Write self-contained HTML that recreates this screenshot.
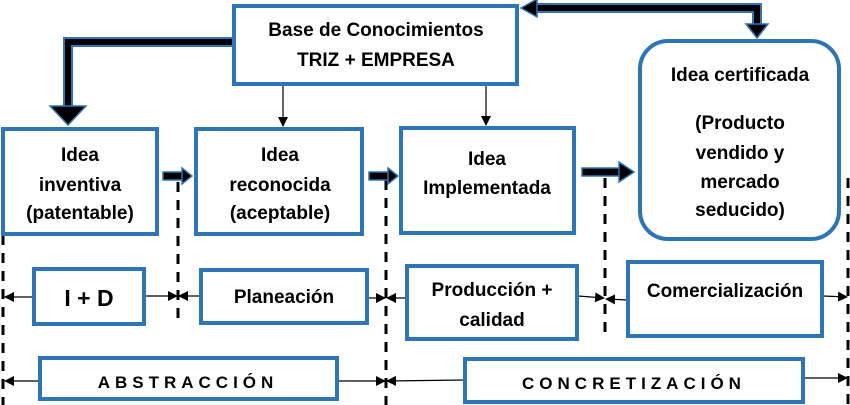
<!DOCTYPE html>
<html><head><meta charset="utf-8"><style>
html,body{margin:0;padding:0;background:#fff;}
svg{display:block;}
text{font-family:"Liberation Sans",sans-serif;font-weight:bold;fill:#000;}
</style></head><body>
<svg width="850" height="405" viewBox="0 0 850 405" xmlns="http://www.w3.org/2000/svg">
<defs>
<marker id="ah" markerWidth="10" markerHeight="10" refX="9" refY="5" orient="auto" markerUnits="userSpaceOnUse"><path d="M0,0 L10,5 L0,10 z" fill="#000"/></marker>
</defs>
<g fill="none" stroke="#000" stroke-width="3" stroke-dasharray="10,8">
<line x1="3" y1="235" x2="3" y2="405"/>
<line x1="178" y1="182" x2="178" y2="320"/>
<line x1="386" y1="180" x2="386" y2="405"/>
<line x1="605" y1="178" x2="605" y2="332"/>
<line x1="848" y1="178" x2="848" y2="405"/>
</g>
<path d="M233,42 L68,42 L68,108" fill="none" stroke="#2e75b6" stroke-width="10"/>
<path d="M233,42 L68,42 L68,108" fill="none" stroke="#000" stroke-width="6"/>
<path d="M50,106 L86,106 L68,125 z" fill="#000" stroke="#2e75b6" stroke-width="1.5"/>
<path d="M536,8 L757,8 L757,25" fill="none" stroke="#2e75b6" stroke-width="10"/>
<path d="M536,8 L757,8 L757,25" fill="none" stroke="#000" stroke-width="6"/>
<path d="M537,-1 L537,17 L521,8 z" fill="#000" stroke="#2e75b6" stroke-width="1.5"/>
<path d="M746,24 L768,24 L757,38 z" fill="#000" stroke="#2e75b6" stroke-width="1.5"/>
<g stroke="#2e75b6" stroke-width="1.5">
<rect x="163" y="172" width="20" height="8" fill="#000"/><path d="M182,168 L192,176 L182,184 z" fill="#000"/>
<rect x="369" y="172" width="20" height="8" fill="#000"/><path d="M388,168 L398,176 L388,184 z" fill="#000"/>
<rect x="582" y="168" width="38" height="8" fill="#000"/><path d="M619,162 L634,172 L619,182 z" fill="#000"/>
</g>
<line x1="283" y1="85" x2="283" y2="126" stroke="#000" stroke-width="1.2" marker-end="url(#ah)"/>
<line x1="486" y1="85" x2="486" y2="125" stroke="#000" stroke-width="1.2" marker-end="url(#ah)"/>
<g stroke="#000" stroke-width="1.2">
<line x1="33" y1="297" x2="5" y2="297" marker-end="url(#ah)"/>
<line x1="145" y1="296" x2="177" y2="296" marker-end="url(#ah)"/>
<line x1="200" y1="296" x2="179" y2="296" marker-end="url(#ah)"/>
<line x1="368" y1="298" x2="385" y2="298" marker-end="url(#ah)"/>
<line x1="406" y1="298" x2="387" y2="298" marker-end="url(#ah)"/>
<line x1="578" y1="296" x2="604" y2="298" marker-end="url(#ah)"/>
<line x1="628" y1="300" x2="606" y2="299" marker-end="url(#ah)"/>
<line x1="823" y1="296" x2="847" y2="297" marker-end="url(#ah)"/>
<line x1="39" y1="381" x2="5" y2="381" marker-end="url(#ah)"/>
<line x1="338" y1="381" x2="385" y2="381" marker-end="url(#ah)"/>
<line x1="464" y1="380" x2="387" y2="381" marker-end="url(#ah)"/>
<line x1="804" y1="378" x2="847" y2="378" marker-end="url(#ah)"/>
</g>
<g fill="#fff" stroke="#2e75b6" stroke-width="4">
<rect x="234" y="6" width="283" height="78"/>
<rect x="3" y="129" width="154" height="105"/>
<rect x="196" y="129" width="166" height="105"/>
<rect x="401" y="128" width="173" height="105"/>
<rect x="640" y="41" width="199" height="198" rx="28"/>
<rect x="34" y="269" width="110" height="55"/>
<rect x="201" y="270" width="166" height="53"/>
<rect x="407" y="266" width="170" height="73"/>
<rect x="628" y="262" width="194" height="74"/>
<rect x="40" y="358" width="297" height="41"/>
<rect x="465" y="359" width="338" height="43"/>
</g>
<g font-size="19" text-anchor="middle">
<text x="376" y="36">Base de Conocimientos</text>
<text x="376" y="66">TRIZ + EMPRESA</text>
<text x="80" y="161">Idea</text>
<text x="80" y="191">inventiva</text>
<text x="80" y="219">(patentable)</text>
<text x="280" y="161">Idea</text>
<text x="280" y="191">reconocida</text>
<text x="280" y="219">(aceptable)</text>
<text x="487" y="165">Idea</text>
<text x="487" y="194">Implementada</text>
<text x="740" y="81">Idea certificada</text>
<text x="740" y="129">(Producto</text>
<text x="740" y="159">vendido y</text>
<text x="740" y="188">mercado</text>
<text x="740" y="216">seducido)</text>
<text x="89" y="306" font-size="23">I + D</text>
<text x="284" y="303">Planeación</text>
<text x="492" y="296">Producción +</text>
<text x="492" y="326">calidad</text>
<text x="725" y="297">Comercialización</text>
<text x="188" y="388" font-size="17" letter-spacing="5">ABSTRACCIÓN</text>
<text x="634" y="389" font-size="17" letter-spacing="5">CONCRETIZACIÓN</text>
</g>
</svg>
</body></html>
